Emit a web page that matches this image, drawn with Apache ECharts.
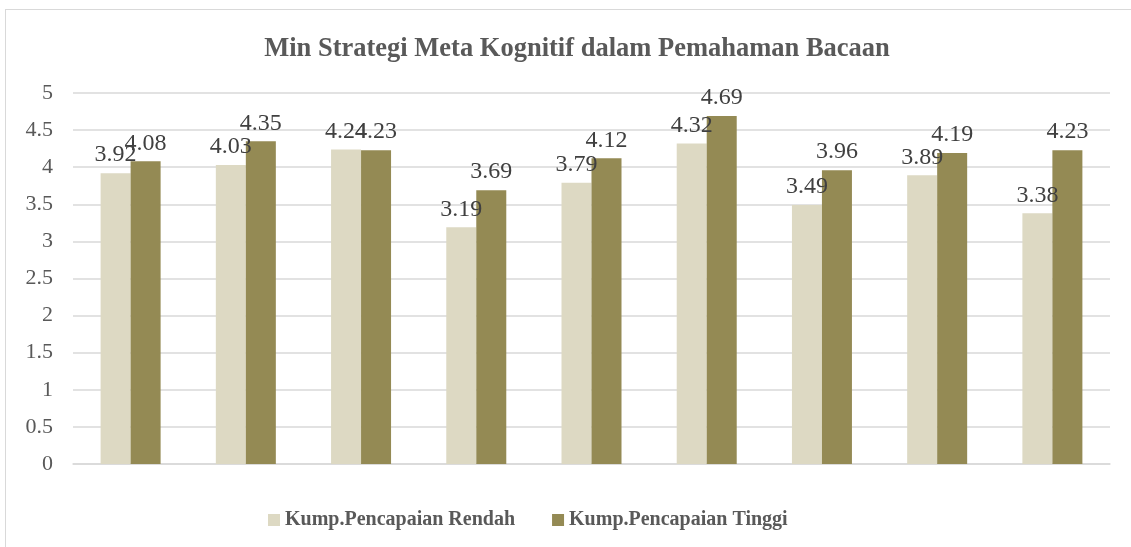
<!DOCTYPE html>
<html><head><meta charset="utf-8">
<script src="https://cdn.jsdelivr.net/npm/echarts@6/dist/echarts.min.js"></script>
<style>html,body{margin:0;padding:0;background:#fff}#c{width:1131px;height:547px}
#frame{position:absolute;left:5px;top:9px;width:1140px;height:560px;border:1px solid #d9d9d9;box-sizing:border-box;pointer-events:none}</style>
</head><body><div id="c"></div><div id="frame"></div>
<script>
const categories = ['1','2','3','4','5','6','7','8','9'];
const rendah = [3.92, 4.03, 4.24, 3.19, 3.79, 4.32, 3.49, 3.89, 3.38];
const tinggi = [4.08, 4.35, 4.23, 3.69, 4.12, 4.69, 3.96, 4.19, 4.23];
const yTicks = [0, 0.5, 1, 1.5, 2, 2.5, 3, 3.5, 4, 4.5, 5];
const font = 'Liberation Serif, Times New Roman, serif';
const chart = echarts.init(document.getElementById('c'));
const lbl = {show:true, position:'top', distance:6, fontFamily:font, fontSize:24, color:'#404040', letterSpacing:0.5};
chart.setOption({
  animation:false,
  title:{text:'Min Strategi Meta Kognitif dalam Pemahaman Bacaan', left:572, textAlign:'center', top:31,
    textStyle:{fontFamily:font, fontWeight:'bold', fontSize:26.5, color:'#595959'}},
  legend:{bottom:12, left:263, itemWidth:12, itemHeight:12, itemGap:37, icon:'rect',
    textStyle:{fontFamily:font, fontWeight:'bold', fontSize:20, color:'#595959', letterSpacing:-1.1}},
  grid:{left:73, right:21, top:93, bottom:83, containLabel:false},
  xAxis:{type:'category', data:categories, axisLabel:{show:false}, axisTick:{show:false},
    axisLine:{lineStyle:{color:'#d9d9d9', width:1.5}}},
  yAxis:{type:'value', min:yTicks[0], max:yTicks[yTicks.length-1], interval:0.5,
    axisLabel:{fontFamily:font, fontSize:22, color:'#595959', margin:20},
    splitLine:{lineStyle:{color:'#d9d9d9', width:1.5}}, axisLine:{show:false}, axisTick:{show:false}},
  series:[
    {name:'Kump.Pencapaian Rendah', type:'bar', data:rendah, barWidth:30, barGap:'0%',
     itemStyle:{color:'#DDD9C3'}, label:lbl},
    {name:'Kump.Pencapaian Tinggi', type:'bar', data:tinggi, barWidth:30,
     itemStyle:{color:'#948A54'}, label:lbl}
  ]
});
</script></body></html>
